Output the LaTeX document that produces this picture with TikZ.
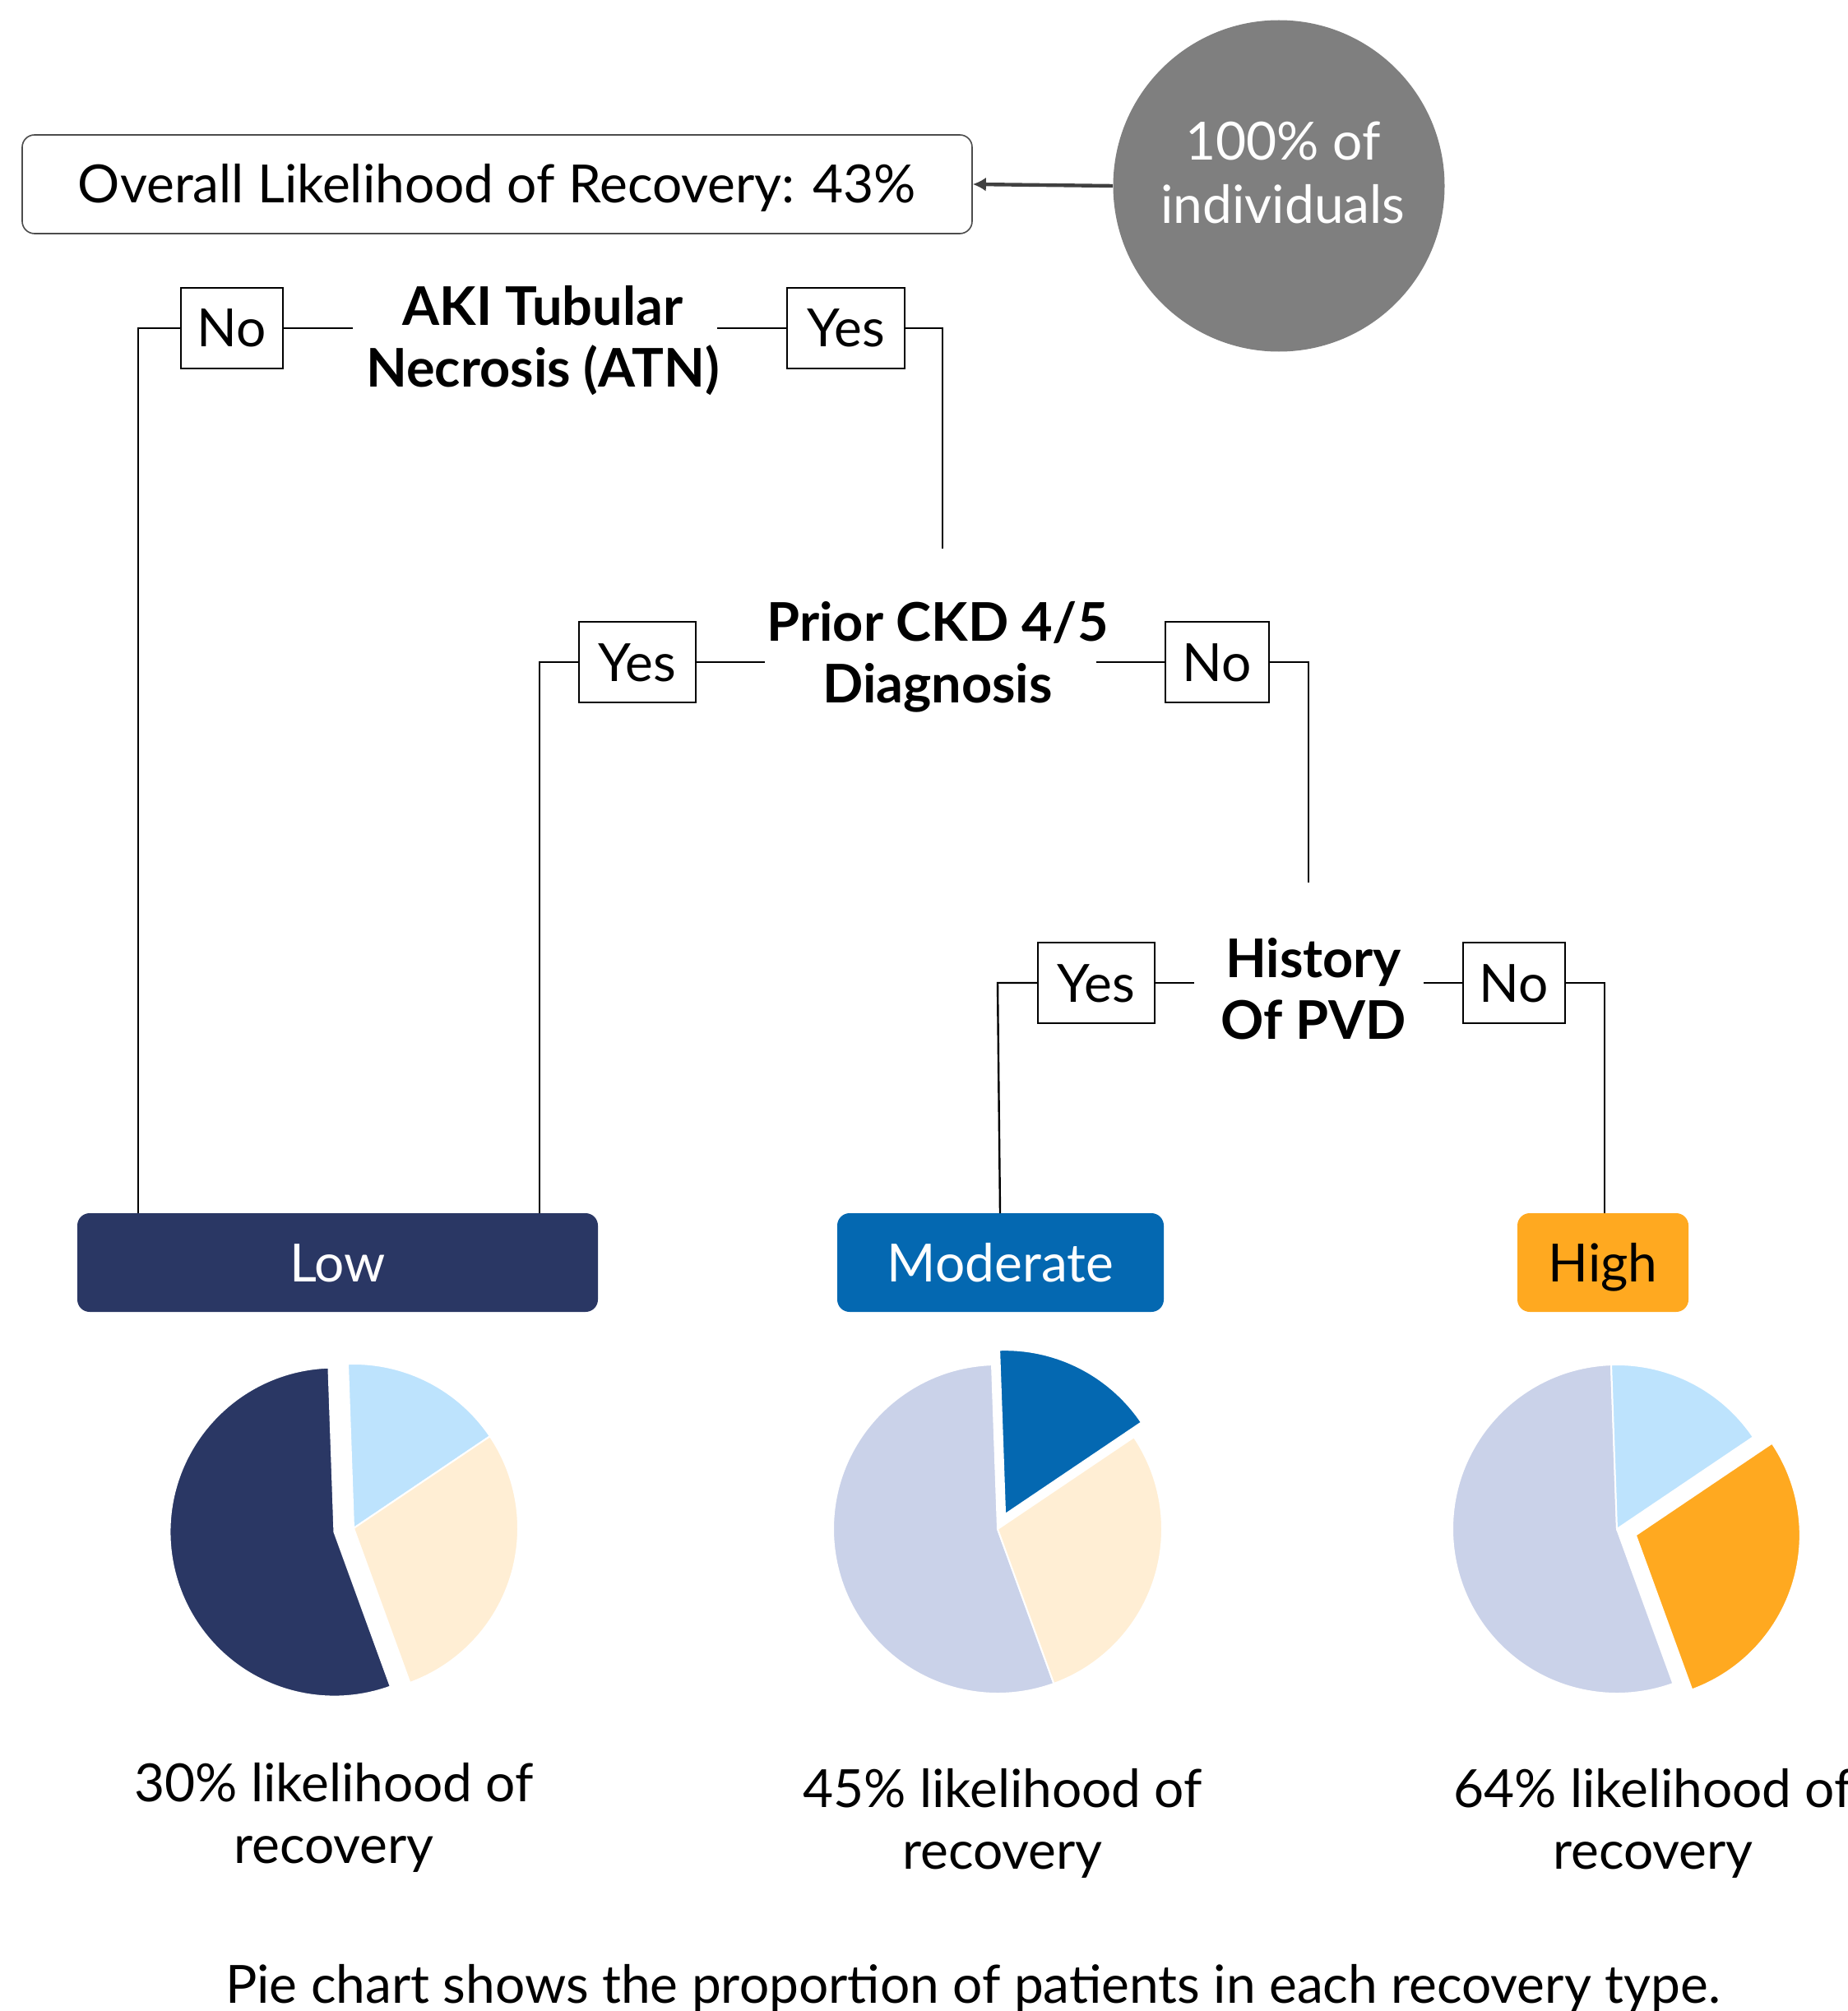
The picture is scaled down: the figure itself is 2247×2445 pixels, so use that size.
\documentclass[tikz,border=0pt]{standalone}
\usepackage{fontspec}
\setmainfont{Lato}
\usetikzlibrary{arrows.meta}
\definecolor{navy}{HTML}{2A3764}
\definecolor{modblue}{HTML}{0468B1}
\definecolor{orng}{HTML}{FFA920}
\definecolor{ltblue}{HTML}{BDE3FD}
\definecolor{cream}{HTML}{FFEED4}
\definecolor{lav}{HTML}{CAD2E9}
\definecolor{circgray}{HTML}{7F7F7F}
\definecolor{arrgray}{HTML}{404040}
\newcommand{\regf}{\fontsize{32}{37.5}\selectfont}
\newcommand{\circf}{\fontsize{32}{38.5}\selectfont}
\newcommand{\boldf}{\fontsize{32.4}{37.5}\selectfont\bfseries}
\tikzset{
  lbl/.style={draw=black, line width=1pt, minimum height=48.75pt, inner sep=0pt,
              font=\regf, text height=23pt, text depth=0pt},
  cond/.style={align=center, font=\boldf, inner sep=0pt},
  leaf/.style={rounded corners=7.5pt, inner sep=0pt, minimum height=60pt,
               font=\regf, text height=23pt, text depth=0pt},
  conn/.style={line width=1.2pt, black},
  capt/.style={align=center, font=\regf, inner sep=0pt},
  slice/.style={draw=white, line width=1pt}
}
\begin{document}
\begin{tikzpicture}[x=0.5pt, y=-0.5pt]
\useasboundingbox (0,0) rectangle (2247,2445);

% top
\node[draw=black!70, line width=0.8pt, rounded corners=7.5pt, minimum width=577.5pt,
      minimum height=60pt, inner sep=0pt, font=\regf, text height=23pt, text depth=0pt]
  (overall) at (604.5,224) {Overall Likelihood of Recovery: 43\%};
\node[circle, fill=circgray, minimum size=201.5pt, inner sep=0pt] (circ) at (1555,226) {};
\node[align=center, inner sep=0pt, font=\circf, text=white] (circtext) at (1560,210) {100\% of\\individuals};
\draw[arrgray, line width=2.2pt, -{Latex[length=8pt,width=8.5pt]}] (circ.west) -- (overall.east);

% condition nodes
\node[cond] (aki) at (660,414) {AKI Tubular\\Necrosis (ATN)};
\node[cond] (prior) at (1140,799) {Prior CKD 4/5\\Diagnosis};
\node[cond] (hist) at (1597,1202) {History\\Of PVD};

% label boxes
\node[lbl, minimum width=62pt] (no1) at (282,399) {No};
\node[lbl, minimum width=71.5pt] (yes1) at (1028.5,399) {Yes};
\node[lbl, minimum width=71pt] (yes2) at (775,805) {Yes};
\node[lbl, minimum width=63pt] (no2) at (1480,805) {No};
\node[lbl, minimum width=71pt] (yes3) at (1333,1195) {Yes};
\node[lbl, minimum width=62pt] (no3) at (1841,1195) {No};

% leaves
\node[leaf, fill=navy, text=white, minimum width=316.5pt] (low) at (410.5,1535) {Low};
\node[leaf, fill=modblue, text=white, minimum width=198.5pt] (mod) at (1216.5,1535) {Moderate};
\node[leaf, fill=orng, text=black, minimum width=104pt] (high) at (1949,1535) {High};

% connector free ends
\coordinate (akiL) at (429,399);
\coordinate (akiR) at (872,399);
\coordinate (priorT) at (1146,667);
\coordinate (priorL) at (929.5,805);
\coordinate (priorR) at (1333,805);
\coordinate (histT) at (1591,1073);
\coordinate (histL) at (1452,1195);
\coordinate (histR) at (1731,1195);
\coordinate (lowL) at (168,1475);
\coordinate (lowR) at (656,1475);
\coordinate (modBend) at (1213,1195);
\coordinate (modT) at (1216,1475);
\coordinate (highT) at (1951,1475);

\draw[conn] (akiL) -- (no1.east);
\draw[conn] (no1.west) -| (lowL);
\draw[conn] (akiR) -- (yes1.west);
\draw[conn] (yes1.east) -| (priorT);
\draw[conn] (priorL) -- (yes2.east);
\draw[conn] (yes2.west) -| (lowR);
\draw[conn] (priorR) -- (no2.west);
\draw[conn] (no2.east) -| (histT);
\draw[conn] (histL) -- (yes3.east);
\draw[conn] (yes3.west) -- (modBend) -- (modT);
\draw[conn] (histR) -- (no3.west);
\draw[conn] (no3.east) -| (highT);

% pies
\begin{scope}[shift={(430,1858)}, yscale=-1]
  \filldraw[slice, fill=ltblue] (0,0) -- (34:200) arc[start angle=34, end angle=92, radius=200] -- cycle;
  \filldraw[slice, fill=cream] (0,0) -- (-70:200) arc[start angle=-70, end angle=34, radius=200] -- cycle;
  \begin{scope}[shift={(191:24)}]
    \filldraw[slice, fill=navy] (0,0) -- (92:200) arc[start angle=92, end angle=290, radius=200] -- cycle;
  \end{scope}
\end{scope}
\begin{scope}[shift={(1213,1859)}, yscale=-1]
  \filldraw[slice, fill=lav] (0,0) -- (92:200) arc[start angle=92, end angle=290, radius=200] -- cycle;
  \filldraw[slice, fill=cream] (0,0) -- (-70:200) arc[start angle=-70, end angle=34, radius=200] -- cycle;
  \begin{scope}[shift={(63:20)}]
    \filldraw[slice, fill=modblue] (0,0) -- (34:200) arc[start angle=34, end angle=92, radius=200] -- cycle;
  \end{scope}
\end{scope}
\begin{scope}[shift={(1966,1859)}, yscale=-1]
  \filldraw[slice, fill=lav] (0,0) -- (92:200) arc[start angle=92, end angle=290, radius=200] -- cycle;
  \filldraw[slice, fill=ltblue] (0,0) -- (34:200) arc[start angle=34, end angle=92, radius=200] -- cycle;
  \begin{scope}[shift={(-18:24)}]
    \filldraw[slice, fill=orng] (0,0) -- (-70:200) arc[start angle=-70, end angle=34, radius=200] -- cycle;
  \end{scope}
\end{scope}

% captions
\node[capt] (caplow) at (406,2209.5) {30\% likelihood of\\recovery};
\node[capt] (capmod) at (1219,2216.5) {45\% likelihood of\\recovery};
\node[capt] (caphigh) at (2010,2216.5) {64\% likelihood of\\recovery};
\node[font=\regf, inner sep=0pt, anchor=base] (note) at (1183,2435)
  {Pie chart shows the proportion of patients in each recovery type.};
\end{tikzpicture}
\end{document}
